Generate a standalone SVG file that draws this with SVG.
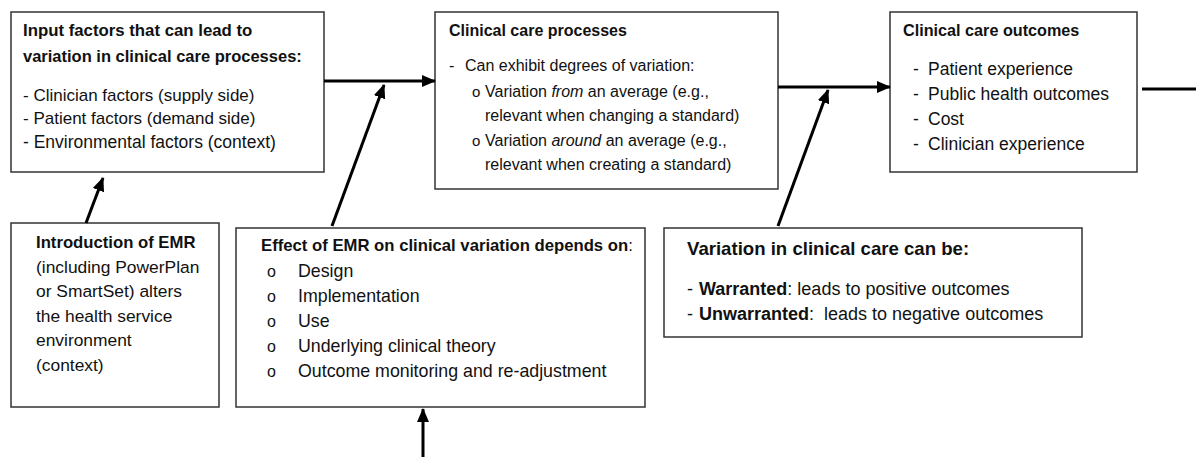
<svg xmlns="http://www.w3.org/2000/svg" width="1196" height="457" viewBox="0 0 1196 457">
<style>
.box{fill:#fff;stroke:#333;stroke-width:1.5}
text{font-family:"Liberation Sans",Arial,sans-serif;fill:#111}
.b{font-weight:bold}
.i{font-style:italic}
.con line{stroke:#000;stroke-width:3}
</style>
<defs>
<marker id="ah" markerUnits="userSpaceOnUse" markerWidth="14" markerHeight="12" refX="13" refY="6" orient="auto">
<path d="M0,0 L14,6 L0,12 Z" fill="#000"/>
</marker>
</defs>
<g id="input-factors">
<rect class="box" x="11" y="12" width="313" height="160"/>
<text class="b" x="23" y="36" font-size="16.8">Input factors that can lead to</text>
<text class="b" x="23" y="62" font-size="16.5">variation in clinical care processes:</text>
<text x="23" y="101" font-size="17">- Clinician factors (supply side)</text>
<text x="23" y="124" font-size="17">- Patient factors (demand side)</text>
<text x="23" y="148" font-size="17.5">- Environmental factors (context)</text>
</g>
<g id="clinical-care-processes">
<rect class="box" x="435" y="12" width="343" height="177"/>
<text class="b" x="449" y="36" font-size="16">Clinical care processes</text>
<text x="449" y="71" font-size="16">-</text>
<text x="465" y="71" font-size="16">Can exhibit degrees of variation:</text>
<text x="472" y="97" font-size="15">o</text>
<text x="485" y="97" font-size="16">Variation <tspan class="i">from</tspan> an average (e.g.,</text>
<text x="485" y="121" font-size="16">relevant when changing a standard)</text>
<text x="472" y="146" font-size="15">o</text>
<text x="485" y="146" font-size="16">Variation <tspan class="i">around</tspan> an average (e.g.,</text>
<text x="485" y="170" font-size="16">relevant when creating a standard)</text>
</g>
<g id="clinical-care-outcomes">
<rect class="box" x="890" y="12" width="247" height="160"/>
<text class="b" x="903" y="36" font-size="16.2">Clinical care outcomes</text>
<text x="913" y="75" font-size="17.5">-</text><text x="928" y="75" font-size="17.5">Patient experience</text>
<text x="913" y="100" font-size="17.5">-</text><text x="928" y="100" font-size="17.5">Public health outcomes</text>
<text x="913" y="125" font-size="17.5">-</text><text x="928" y="125" font-size="17.5">Cost</text>
<text x="913" y="150" font-size="17.5">-</text><text x="928" y="150" font-size="17.5">Clinician experience</text>
</g>
<g id="introduction-of-emr">
<rect class="box" x="11" y="223" width="208" height="184"/>
<text class="b" x="36" y="248" font-size="16.7">Introduction of EMR</text>
<text x="36" y="273" font-size="17.4">(including PowerPlan</text>
<text x="36" y="297" font-size="17.4">or SmartSet) alters</text>
<text x="36" y="322" font-size="17.4">the health service</text>
<text x="36" y="346" font-size="17.4">environment</text>
<text x="36" y="371" font-size="17.4">(context)</text>
</g>
<g id="effect-of-emr">
<rect class="box" x="236" y="228" width="409" height="179"/>
<text x="261" y="251" font-size="16.7"><tspan class="b">Effect of EMR on clinical variation depends on</tspan>:</text>
<text x="267" y="277" font-size="16">o</text><text x="298" y="277" font-size="17.8">Design</text>
<text x="267" y="302" font-size="16">o</text><text x="298" y="302" font-size="17.8">Implementation</text>
<text x="267" y="327" font-size="16">o</text><text x="298" y="327" font-size="17.8">Use</text>
<text x="267" y="352" font-size="16">o</text><text x="298" y="352" font-size="17.8">Underlying clinical theory</text>
<text x="267" y="377" font-size="16">o</text><text x="298" y="377" font-size="17.8">Outcome monitoring and re-adjustment</text>
</g>
<g id="variation-in-clinical-care">
<rect class="box" x="664" y="228" width="418" height="109"/>
<text class="b" x="687" y="255" font-size="18.6">Variation in clinical care can be:</text>
<text x="687" y="295" font-size="18">-</text><text x="699" y="295" font-size="18"><tspan class="b">Warranted</tspan>: leads to positive outcomes</text>
<text x="687" y="320" font-size="18">-</text><text x="699" y="320" font-size="18"><tspan class="b">Unwarranted</tspan>:&#160; leads to negative outcomes</text>
</g>
<g id="connectors" class="con">
<line x1="324" y1="81" x2="435" y2="81" marker-end="url(#ah)"/>
<line x1="778" y1="87" x2="890" y2="87" marker-end="url(#ah)"/>
<line x1="1142" y1="89" x2="1196" y2="89"/>
<line x1="86" y1="223" x2="103" y2="178" marker-end="url(#ah)"/>
<line x1="332" y1="226" x2="384" y2="85" marker-end="url(#ah)"/>
<line x1="778" y1="226" x2="828" y2="90" marker-end="url(#ah)"/>
<line x1="423" y1="457" x2="423" y2="409" marker-end="url(#ah)"/>
</g>
</svg>
